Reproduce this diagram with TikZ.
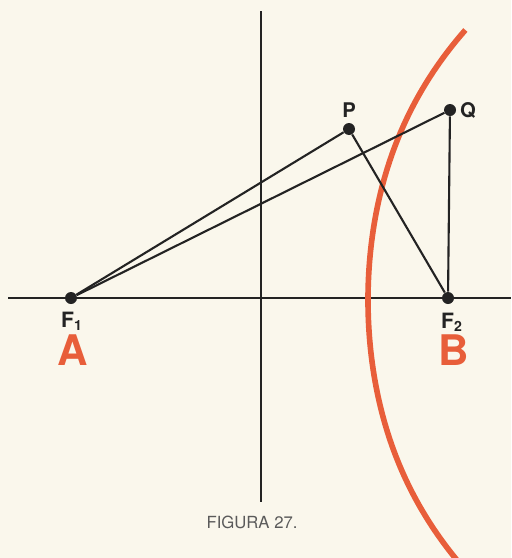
\documentclass[tikz,border=0pt]{standalone}
\usepackage{fontspec}
\setmainfont{TeX Gyre Heros}
\definecolor{paper}{RGB}{250,247,236}
\definecolor{ink}{RGB}{35,35,35}
\definecolor{orng}{RGB}{232,94,58}
\definecolor{cap}{RGB}{90,90,90}
\begin{document}
\begin{tikzpicture}[x=0.02cm,y=-0.02cm,
  axis/.style={draw=ink,line width=1.3pt},
  seg/.style={draw=ink,line width=1.2pt},
  dot/.style={circle,fill=ink,inner sep=0pt,minimum size=0.24cm},
  flabel/.style={font=\fontsize{12}{12}\selectfont\bfseries,text=ink,inner sep=0pt},
  bigl/.style={font=\fontsize{24}{24}\selectfont\bfseries,text=orng,inner sep=0pt},
  plabel/.style={font=\fontsize{11.5}{11.5}\selectfont\bfseries,text=ink,inner sep=0pt}]
\fill[paper] (0,0) rectangle (511,558);
\useasboundingbox (0,0) rectangle (511,558);
% axes
\coordinate (xl) at (8,298);
\coordinate (xr) at (511,298);
\coordinate (yt) at (261,11);
\coordinate (yb) at (261,502);
\draw[axis] (xl) -- (xr);
\draw[axis] (yt) -- (yb);
% hyperbola branch
\begin{scope}
\clip (0,0) rectangle (511,558);
\draw[orng,line width=3.2pt] plot[domain=30:575,samples=80,smooth]
  ({368+10.46*((\x-300)/100)*((\x-300)/100)+0.397*((\x-300)/100)*((\x-300)/100)*((\x-300)/100)*((\x-300)/100)},\x);
\end{scope}
% points
\node[dot] (F1) at (71,298) {};
\node[dot] (F2) at (448,298) {};
\node[dot] (P) at (349,129) {};
\node[dot] (Q) at (450,110) {};
\draw[seg] (F1) -- (P);
\draw[seg] (F1) -- (Q);
\draw[seg] (P) -- (F2);
\draw[seg] (Q) -- (F2);
% labels
\node[flabel] (lf1) at (72,321) {F\textsubscript{1}};
\node[flabel] (lf2) at (452,322) {F\textsubscript{2}};
\node[bigl] (lA) at (73,350) {A};
\node[bigl] (lB) at (454,350) {B};
\node[plabel] (lP) at (349,110) {P};
\node[plabel] (lQ) at (468,110) {Q};
\node[font=\fontsize{9.5}{9.5}\selectfont,text=cap,inner sep=0pt] (cap) at (252,522) {FIGURA 27.};
\end{tikzpicture}
\end{document}
